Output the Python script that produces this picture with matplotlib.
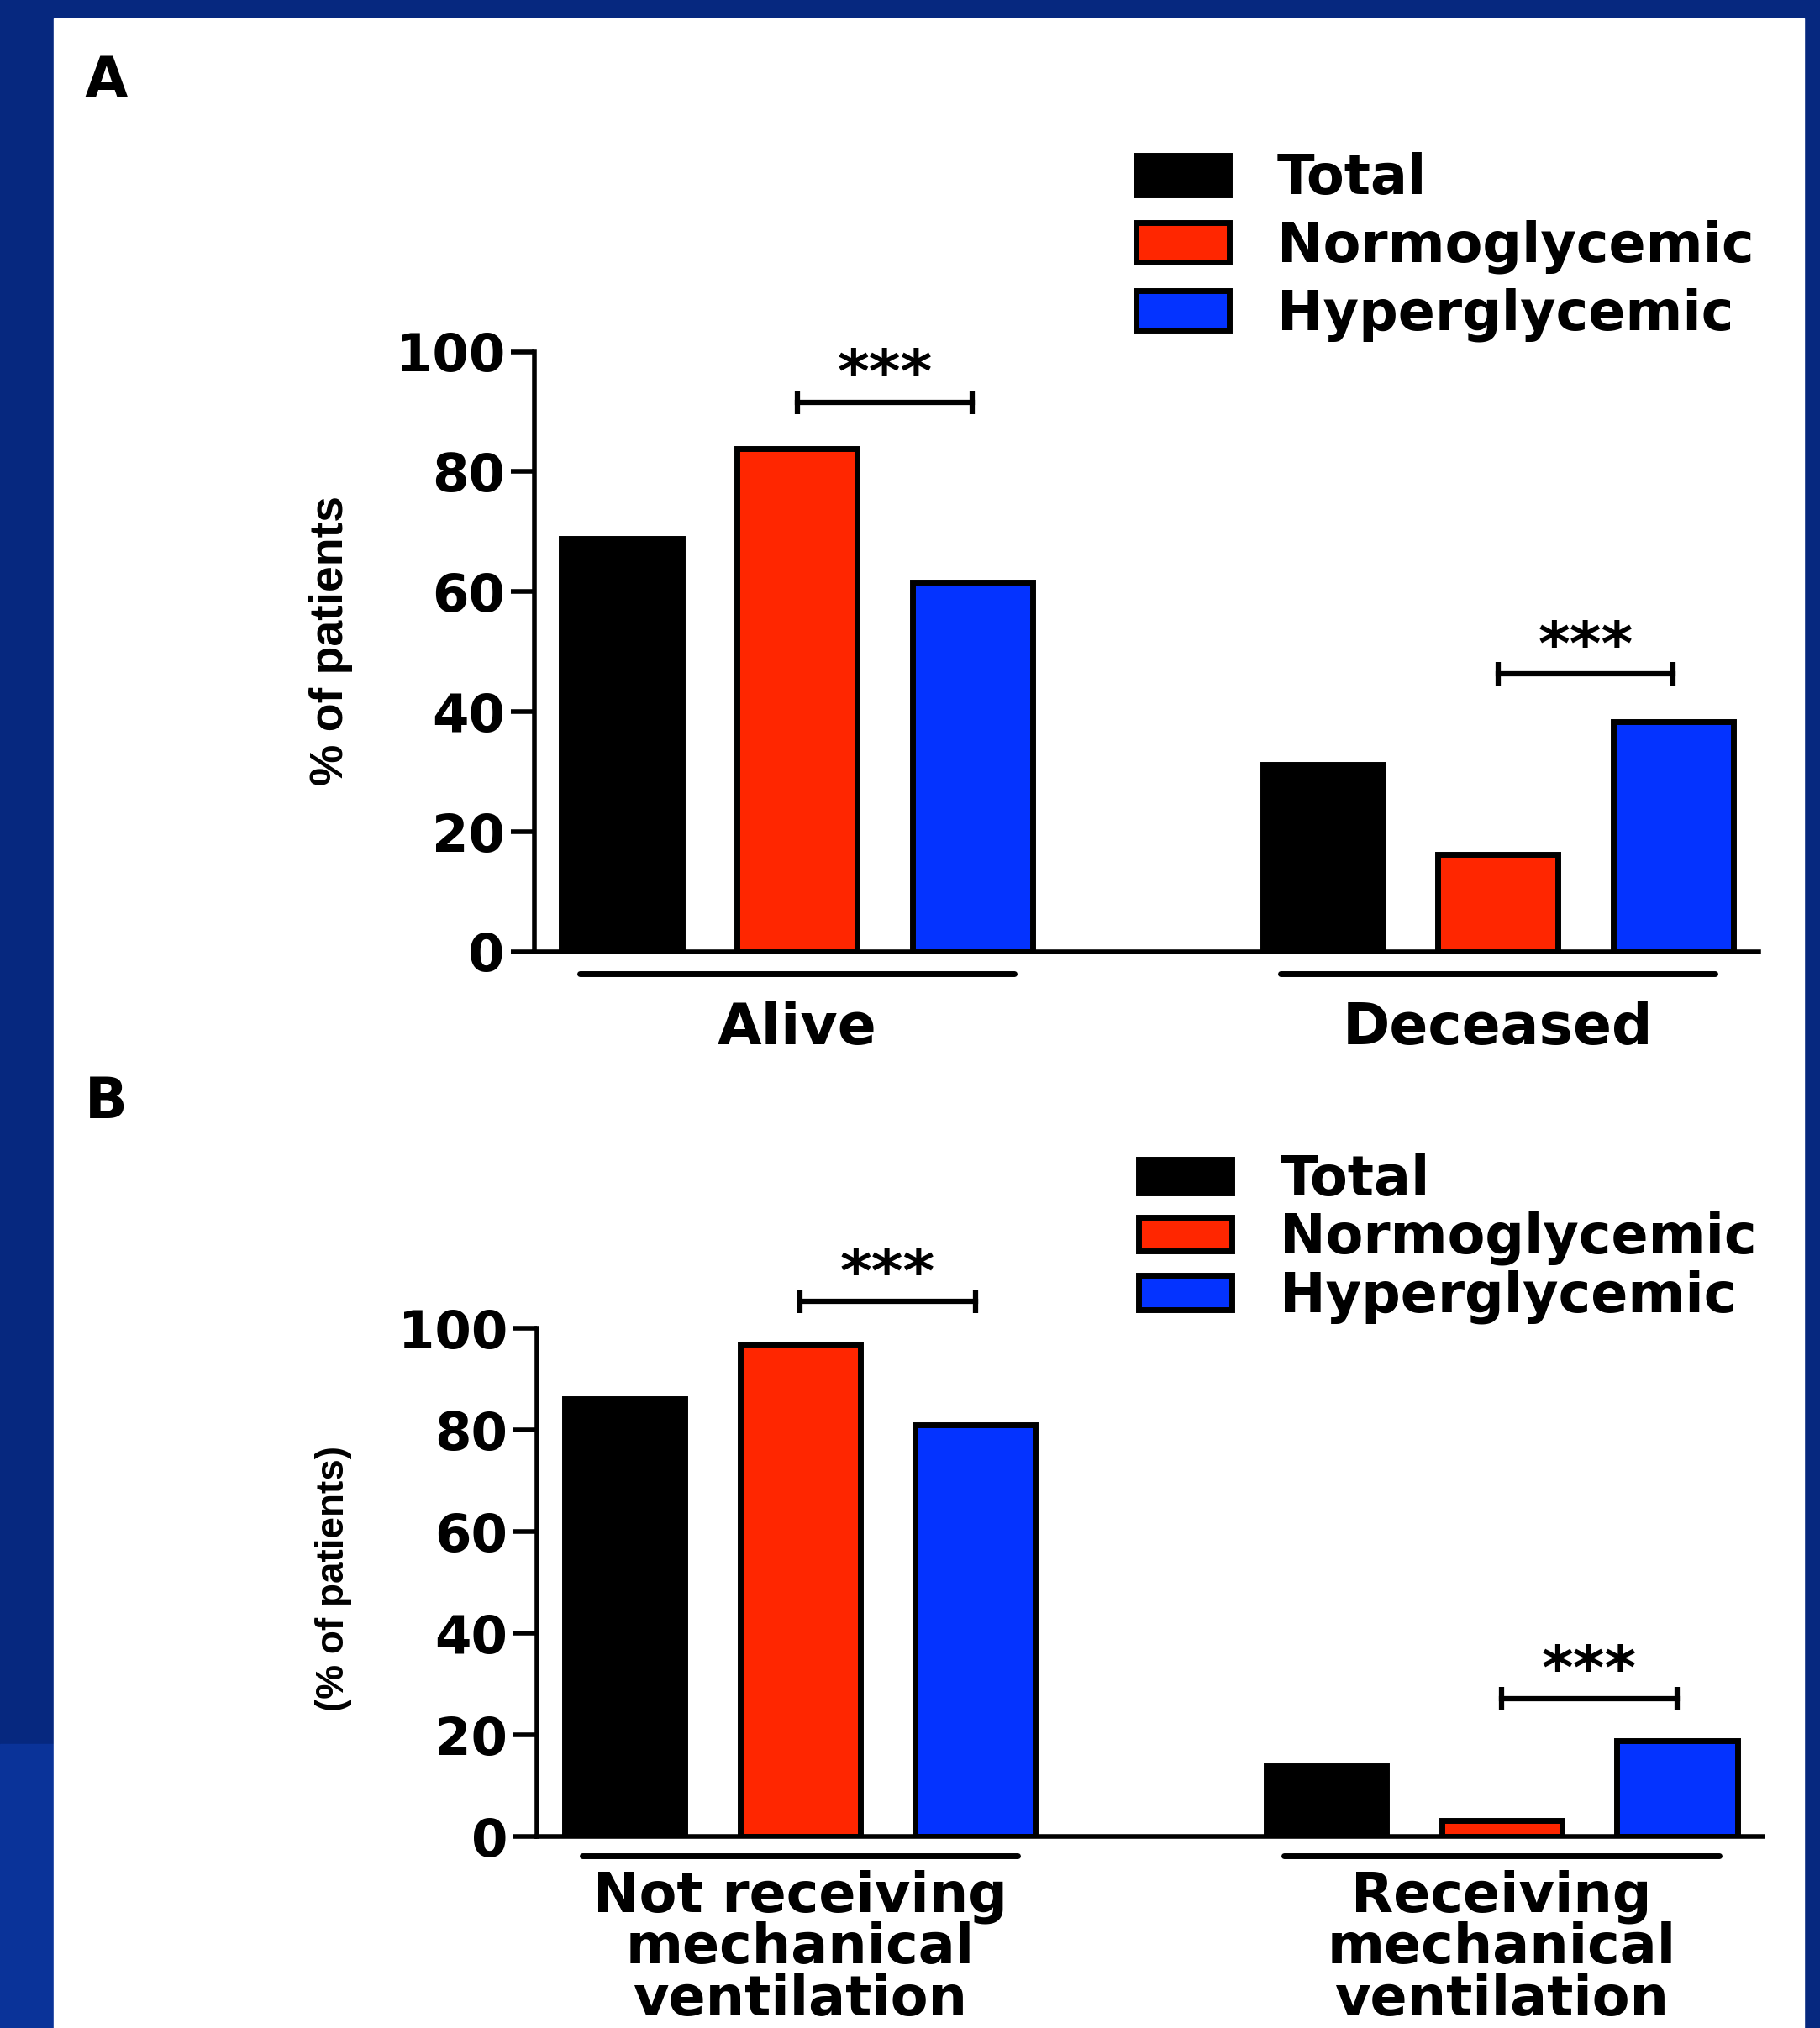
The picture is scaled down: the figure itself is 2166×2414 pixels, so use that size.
import numpy as np
import matplotlib
matplotlib.use('Agg')
import matplotlib.pyplot as plt
from matplotlib.patches import Rectangle

# Data
series = ['Total', 'Normoglycemic', 'Hyperglycemic']
colors = ['#000000', '#FF2600', '#0433FF']

groups_a = ['Alive', 'Deceased']
total_a = [68.8, 31.2]
normo_a = [83.8, 16.2]
hyper_a = [61.6, 38.4]
sig_a = [91.6, 46.3]       # height of the *** brackets

groups_b = ['Not receiving\nmechanical\nventilation', 'Receiving\nmechanical\nventilation']
total_b = [86.1, 13.9]
normo_b = [96.9, 3.1]
hyper_b = [81.1, 18.9]
sig_b = [105.3, 27.2]

yticks = [0, 20, 40, 60, 80, 100]

plt.rcParams.update({
    'font.family': 'DejaVu Sans',
    'font.weight': 'bold',
})

W, H = 2166, 2414
fig = plt.figure(figsize=(W / 100, H / 100), dpi=100)
fig.patch.set_facecolor('#06287F')

# slide background: lighter blue bit lower-left, white panel
fig.patches.append(Rectangle((0, 0), 0.03, 0.14, transform=fig.transFigure,
                             color='#0A3399', zorder=-10))
fig.patches.append(Rectangle((0.0295, 0), 0.9617, 0.9909, transform=fig.transFigure,
                             color='white', zorder=-10))

GAP = 4.0
LW = 4.0


def draw_panel(ax, values, groups, sig, ylabel, ylabel_size, ylabel_xy,
               xpad, xsize):
    for i, (vals, col, name) in enumerate(zip(values, colors, series)):
        x = np.arange(len(groups)) * GAP + i
        ax.bar(x, vals, width=0.686, color=col, edgecolor='black',
               linewidth=5, label=name, zorder=3)

    # significance brackets between Normoglycemic and Hyperglycemic
    for g, y in enumerate(sig):
        x1, x2 = g * GAP + 1, g * GAP + 2
        ax.plot([x1, x2], [y, y], color='black', lw=4.5, clip_on=False)
        ax.plot([x1, x2], [y, y], ls='none', marker='|', ms=20, mew=4.5,
                color='black', clip_on=False)
        ax.annotate('***', xy=((x1 + x2) / 2, y), xytext=(0, 8),
                    textcoords='offset points', ha='center', va='baseline',
                    fontsize=52, fontweight='bold', annotation_clip=False)

    # group underline
    for g in range(len(groups)):
        c = g * GAP + 1
        ax.plot([c - 1.24, c + 1.24], [-3.7, -3.7], color='black', lw=5,
                solid_capstyle='round', clip_on=False)

    ax.set_xlim(-0.5, 6.49)
    ax.set_ylim(0, 100)
    ax.set_yticks(yticks)
    ax.set_xticks(np.arange(len(groups)) * GAP + 1)
    ax.set_xticklabels(groups, fontsize=xsize, fontweight='bold', linespacing=0.95)
    ax.tick_params(axis='x', length=0, pad=xpad)
    ax.tick_params(axis='y', length=20, width=LW, labelsize=45, pad=5)
    for t in ax.get_yticklabels():
        t.set_fontweight('bold')
    for s in ['top', 'right']:
        ax.spines[s].set_visible(False)
    for s in ['left', 'bottom']:
        ax.spines[s].set_linewidth(LW)
    ax.set_facecolor('none')

    fig.text(ylabel_xy[0], ylabel_xy[1], ylabel, rotation=90,
             ha='center', va='center', fontsize=ylabel_size,
             fontweight='bold', family='Liberation Sans')


# Panel A
ax_a = fig.add_axes([0.2935, 0.5307, 0.673, 0.2959])
draw_panel(ax_a, [total_a, normo_a, hyper_a], groups_a, sig_a,
           '% of patients', 40, (0.182, 0.6843), 42, 49)
ax_a.legend(loc='upper left', bbox_to_anchor=(0.624, 0.925),
            bbox_transform=fig.transFigure, frameon=False, fontsize=47,
            handlelength=1.70, handleheight=0.735, handletextpad=0.88,
            labelspacing=0.25, borderpad=0, borderaxespad=0)

# Panel B
ax_b = fig.add_axes([0.2950, 0.0944, 0.6737, 0.2506])
draw_panel(ax_b, [total_b, normo_b, hyper_b], groups_b, sig_b,
           '(% of patients)', 33, (0.1835, 0.2217), 28, 47)
ax_b.legend(loc='upper left', bbox_to_anchor=(0.6255, 0.4312),
            bbox_transform=fig.transFigure, frameon=False, fontsize=47,
            handlelength=1.70, handleheight=0.58, handletextpad=0.88,
            labelspacing=0.075, borderpad=0, borderaxespad=0)

# Panel letters
fig.text(0.0465, 0.9733, 'A', fontsize=48, fontweight='bold', va='top')
fig.text(0.0465, 0.4703, 'B', fontsize=48, fontweight='bold', va='top')

fig.savefig('out.png', dpi=100, facecolor=fig.get_facecolor())
